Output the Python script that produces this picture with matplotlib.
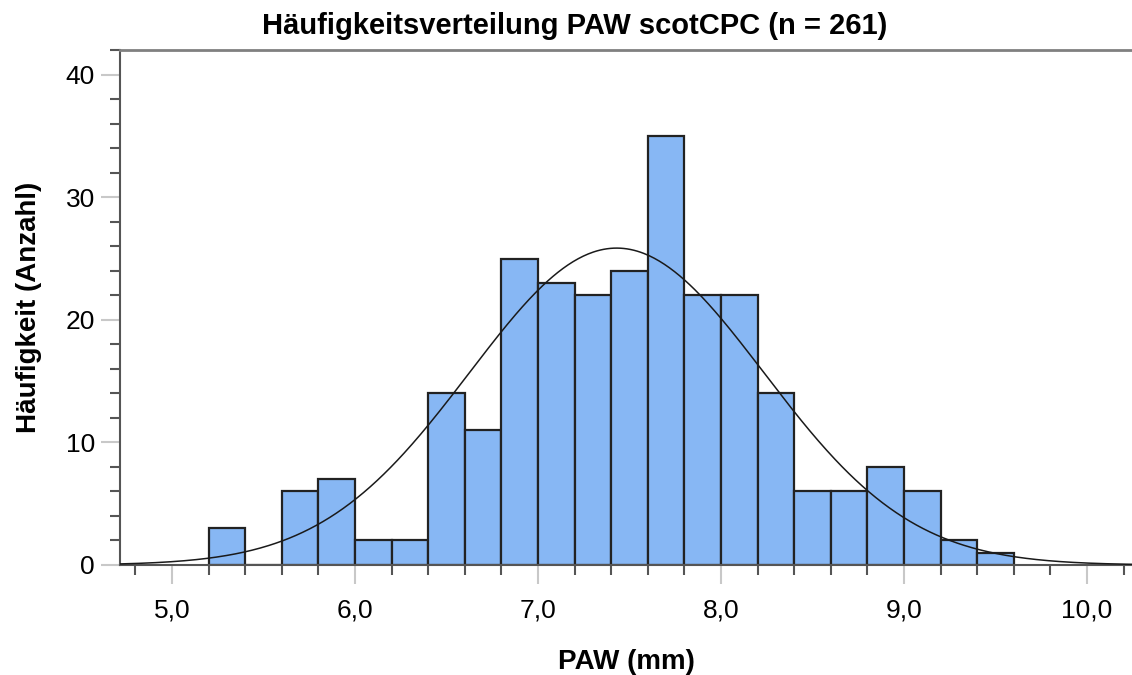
import numpy as np
import matplotlib
matplotlib.use("Agg")
import matplotlib.pyplot as plt
from matplotlib.ticker import MultipleLocator, FuncFormatter

# Data
bin_edges = [5.2, 5.4, 5.6, 5.8, 6.0, 6.2, 6.4, 6.6, 6.8, 7.0, 7.2, 7.4, 7.6,
             7.8, 8.0, 8.2, 8.4, 8.6, 8.8, 9.0, 9.2, 9.4, 9.6]
counts = [3, 0, 6, 7, 2, 2, 14, 11, 25, 23, 22, 24, 35,
          22, 22, 14, 6, 6, 8, 6, 2, 1]
n_total = 261
fit_mean = 7.43
fit_sd = 0.805
bin_width = 0.2

title = "Häufigkeitsverteilung PAW scotCPC (n = 261)"
xlabel = "PAW (mm)"
ylabel = "Häufigkeit (Anzahl)"

plt.rcParams['font.family'] = ['Liberation Sans', 'DejaVu Sans']

fig = plt.figure(figsize=(11.32, 6.75), dpi=100)
W, H = 1132, 675
ax = fig.add_axes([120 / W, (H - 565) / H, (1132 - 120) / W, (565 - 50) / H])

lefts = np.array(bin_edges[:-1])
widths = np.diff(bin_edges)
ax.bar(lefts, counts, width=widths, align='edge', color='#87B7F4',
       edgecolor='#222222', linewidth=1.6, zorder=2)

xs = np.linspace(4.716, 10.25, 600)
ys = n_total * bin_width / (fit_sd * np.sqrt(2 * np.pi)) * np.exp(-0.5 * ((xs - fit_mean) / fit_sd) ** 2)
ax.plot(xs, ys, color='#1a1a1a', linewidth=1.1, zorder=3)

ax.set_xlim(4.716, 10.246)
ax.set_ylim(0, 42.04)

ax.spines['right'].set_visible(False)
ax.spines['top'].set_color('#808080')
ax.spines['top'].set_linewidth(2)
ax.spines['left'].set_color('#555555')
ax.spines['left'].set_linewidth(1.5)
ax.spines['bottom'].set_color('#555555')
ax.spines['bottom'].set_linewidth(1.5)

ax.xaxis.set_major_locator(MultipleLocator(1.0))
ax.xaxis.set_minor_locator(MultipleLocator(0.2))
ax.yaxis.set_major_locator(MultipleLocator(10))
ax.yaxis.set_minor_locator(MultipleLocator(2))
ax.xaxis.set_major_formatter(FuncFormatter(lambda v, p: f"{v:.1f}".replace('.', ',')))
ax.yaxis.set_major_formatter(FuncFormatter(lambda v, p: f"{v:.0f}"))

ax.tick_params(axis='both', which='major', length=14, width=1.5, color='#c8c8c8',
               labelsize=19)
ax.tick_params(axis='x', which='major', pad=10)
ax.tick_params(axis='y', which='major', pad=4)
ax.tick_params(axis='both', which='minor', length=7, width=1.5, color='#555555')

ax.set_xlabel(xlabel, fontsize=20, fontweight='bold', labelpad=19)
ax.set_ylabel(ylabel, fontsize=20, fontweight='bold', labelpad=17)

fig.text(575 / W, 1 - 26 / H, title, ha='center', va='center', fontsize=21,
         fontweight='bold')

fig.savefig('out.png', dpi=100)
